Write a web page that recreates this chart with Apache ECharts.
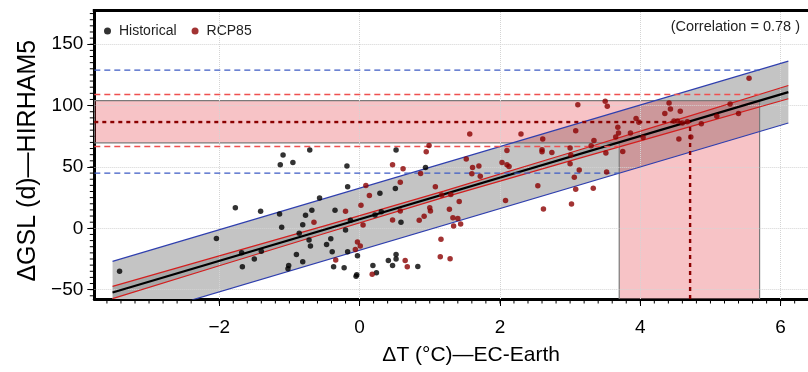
<!DOCTYPE html>
<html><head><meta charset="utf-8">
<script src="https://cdn.jsdelivr.net/npm/echarts@6/dist/echarts.min.js"></script>
<style>html,body{margin:0;padding:0;background:#fff}#c{width:808px;height:372px}</style>
</head><body><div id="c"></div>
<script>
// ---- data ----
const historical = [
 [-3.42,-34.9],[-1.09,59.7],[-1.13,51.8],[-0.95,53.7],[-0.71,63.8],[-0.18,50.7],[0.52,63.8],[0.94,49.6],
 [-1.77,16.8],[-1.41,13.9],[-2.04,-8.2],[-1.14,11.7],[-1.11,0.8],[-0.57,24.8],[-0.68,14.7],[-0.77,10.6],
 [-0.81,2.9],[-0.86,-4.1],[-0.72,-9.6],[-0.70,-14.5],[-0.35,14.7],[-0.17,33.8],[-0.13,6.5],[-0.20,-1.4],
 [-0.41,-8.5],[-0.47,-13.1],[-0.39,-19.1],[-0.17,-19.1],[-0.03,-22.4],[-0.90,-21.3],[-0.81,-27.3],[-1.01,-30.3],
 [-1.02,-33.0],[-1.50,-25.1],[-1.67,-31.4],[-1.68,-19.9],[-1.40,-18.6],[-0.37,-31.4],[-0.22,-32.2],[-0.05,-39.0],
 [-0.04,-37.9],[0.19,-30.3],[0.24,-36.3],[0.29,28.6],[0.31,13.6],[0.22,10.9],[0.51,32.4],[0.59,4.9],
 [0.41,-26.2],[0.47,-30.3],[0.52,-21.3],[0.52,-25.1],[0.83,-31.1]
];
const rcp85 = [
 [0.99,67.5],[0.95,62.4],[0.47,51.8],[0.62,48.5],[0.87,44.6],[0.58,37.6],[0.09,34.8],[0.14,26.7],
 [0.02,18.8],[-0.20,13.9],[-0.65,4.9],[0.05,2.7],[-0.03,-11.2],[0.01,-14.5],[-0.06,-17.2],[-0.34,-25.9],
 [0.18,-37.4],[0.65,-26.2],[0.68,-31.4],[0.47,6.8],[0.58,14.1],[1.00,16.8],[1.01,14.1],[0.92,9.8],
 [0.85,6.5],[1.08,33.8],[1.16,-9.0],[1.15,-23.2],[1.29,-24.9],[1.28,15.5],
 [1.57,76.9],[2.30,76.9],[3.11,100.6],[2.61,72.8],[1.52,56.4],[1.61,49.6],[1.70,50.7],[1.60,44.4],
 [1.72,42.5],[2.03,53.6],[2.10,51.8],[2.13,50.4],[2.10,63.5],[2.60,64.0],[2.60,62.4],[2.74,61.8],
 [3.00,65.4],[3.01,59.7],[3.00,52.6],[3.06,41.7],[3.08,31.9],[3.13,47.5],[2.54,34.6],[2.08,22.6],
 [2.62,15.8],[3.02,19.9],[1.42,21.8],[1.30,27.6],[1.17,27.2],[1.33,8.7],[1.40,7.9],[1.34,1.9],[1.44,3.5],
 [5.55,122.3],[3.50,103.5],[3.53,99.4],[4.41,102.2],[4.43,97.3],[4.35,93.5],[4.57,95.3],[5.28,101.4],
 [5.09,91.3],[5.40,93.5],[3.94,89.4],[3.98,86.4],[4.48,87.5],[4.53,87.5],[4.67,86.9],[4.87,85.3],
 [4.60,85.8],[3.68,82.3],[3.69,77.7],[3.86,77.7],[3.65,74.4],[4.04,74.1],[4.55,72.8],[4.72,74.4],
 [3.08,79.6],[3.34,71.6],[3.30,67.3],[3.51,61.3],[3.75,62.6],[3.52,45.8],[3.33,32.7]
];
// regression line and bands (end points / read values)
const fitX = [-3.52, 6.11];
const fitY = [-52.3, 111.0];
const predUpperY = [-27.0, 136.2];
const predLowerY = [-77.6, 85.8];
const confX = [-3.52, -2, -0.5, 1.2, 3, 4.5, 6.11];
const confUpper = [-47.3, -22.5, 2.0, 30.3, 61.6, 88.0, 116.4];
const confLower = [-57.3, -30.5, -4.2, 25.2, 55.0, 79.4, 105.6];
// projection: ΔT low / central / high and corresponding ΔGSL
const projX = [3.7, 4.71, 5.7];
const projY = [69.7, 86.6, 104.1];
const confProj = [66.7, 109.0];   // conf. lower at low ΔT, conf. upper at high ΔT
const predProj = [45.0, 128.9];   // pred. lower at low ΔT, pred. upper at high ΔT
const xTicks = [-2, 0, 2, 4, 6];
const yTicks = [-50, 0, 50, 100, 150];
const legendNames = ['Historical', 'RCP85'];
const corrText = '(Correlation = 0.78 )';

const xMin = -3.78, xMax = 6.39, yMin = -57.6, yMax = 177.5;
const minorX = []; for (let i = -18; i <= 31; i++) minorX.push(+(i * 0.2).toFixed(1));
const minorY = []; for (let v = -55; v <= 175; v += 5) minorY.push(v);
const fmt = v => String(v).replace('-', '\u2212');
const FONT = 'Liberation Sans, Arial, Helvetica, sans-serif';

function polySeries(z, pointsFn, style) {
  return {
    type: 'custom', z: z, silent: true, clip: true, data: [[0, 0]],
    renderItem: (params, api) => ({
      type: 'polygon',
      shape: { points: pointsFn().map(p => api.coord(p)) },
      style: style
    })
  };
}
function seg(pts, color, width, dash, z) {
  return { type: 'line', data: pts, showSymbol: false, symbol: 'none', silent: true, z: z,
    lineStyle: { color: color, width: width, type: dash || 'solid' }, clip: true };
}
// minor ticks drawn through the axis scales
function tickSeries(data, horizontal) {
  return {
    type: 'custom', z: 20, silent: true, clip: false, data: data,
    renderItem: (params, api) => {
      const p = api.coord([api.value(0), api.value(1)]);
      const shape = horizontal
        ? { x1: p[0], y1: p[1], x2: p[0], y2: p[1] + 4.5 }
        : { x1: p[0], y1: p[1], x2: p[0] - 4.5, y2: p[1] };
      return { type: 'line', shape: shape, style: { stroke: '#000', lineWidth: 1 } };
    }
  };
}
// top frame line along the upper edge of the plot
const topFrame = {
  type: 'custom', z: 20, silent: true, clip: false, data: [[0, 0]],
  renderItem: (params, api) => {
    const a = api.coord([xMin, yMax]), b = api.coord([xMax, yMax]);
    return { type: 'line', shape: { x1: a[0] - 1.5, y1: a[1], x2: b[0], y2: b[1] },
      style: { stroke: '#000', lineWidth: 3 } };
  }
};

const chart = echarts.init(document.getElementById('c'), null, { renderer: 'canvas' });
const grayBandPts = () => [[fitX[0], predUpperY[0]], [fitX[1], predUpperY[1]], [fitX[1], predLowerY[1]], [fitX[0], predLowerY[0]]];
const confPts = () => confX.map((x, i) => [x, confUpper[i]]).concat(confX.map((x, i) => [x, confLower[i]]).reverse());
const pinkPts = () => [[xMin, projY[2]], [projX[2], projY[2]], [projX[2], yMin], [projX[0], yMin], [projX[0], projY[0]], [xMin, projY[0]]];

chart.setOption({
  animation: false,
  textStyle: { fontFamily: FONT },
  grid: { left: 94.3, right: 0, top: 10.5, bottom: 73 },
  legend: {
    data: legendNames, left: 99, top: 19, icon: 'circle', itemWidth: 7, itemHeight: 7, itemGap: 15,
    textStyle: { fontSize: 14, color: '#222', padding: [0, 0, 0, 3], fontFamily: FONT }
  },
  graphic: [{
    type: 'text', right: 8, top: 19, z: 100,
    style: { text: corrText, fontSize: 14.5, fill: '#222', fontFamily: FONT }
  }],
  xAxis: [
    { type: 'value', min: xMin, max: xMax, position: 'bottom',
      axisLine: { onZero: false, lineStyle: { color: '#000', width: 3 } },
      axisTick: { customValues: xTicks, length: 7, lineStyle: { color: '#000', width: 1 } },
      axisLabel: { customValues: xTicks, formatter: fmt, fontSize: 19, color: '#000', margin: 19, fontFamily: FONT },
      splitLine: { show: false },
      name: 'ΔT (°C)—EC-Earth', nameLocation: 'middle', nameGap: 46,
      nameTextStyle: { fontSize: 21, color: '#000', fontFamily: FONT, padding: [0, 0, 0, 40] } }
  ],
  yAxis: [
    { type: 'value', min: yMin, max: yMax, position: 'left',
      axisLine: { show: true, onZero: false, lineStyle: { color: '#000', width: 3 } },
      axisTick: { show: true, customValues: yTicks, length: 7, lineStyle: { color: '#000', width: 1 } },
      axisLabel: { customValues: yTicks, formatter: fmt, fontSize: 19, color: '#000', margin: 11, fontFamily: FONT },
      splitLine: { show: false },
      name: 'ΔGSL (d)—HIRHAM5', nameLocation: 'middle', nameGap: 51, nameRotate: 90,
      nameTextStyle: { fontSize: 25, color: '#000', fontFamily: FONT, padding: [0, 12, 0, 0] } }
  ],
  series: [
    { type: 'line', z: 1, silent: true, data: [[xMin, yMin]], showSymbol: false, symbol: 'none',
      lineStyle: { opacity: 0 },
      markLine: { silent: true, symbol: ['none', 'none'], label: { show: false },
        lineStyle: { type: 'dotted', color: '#d4d4d4', width: 1 },
        data: xTicks.map(v => ({ xAxis: v })).concat(yTicks.map(v => ({ yAxis: v }))) } },
    polySeries(2, grayBandPts, { fill: '#c4c4c4' }),
    polySeries(3, confPts, { fill: 'rgba(0,0,0,0.14)' }),
    polySeries(4, pinkPts, { fill: 'rgba(228,40,52,0.28)', stroke: '#7a7a7a', lineWidth: 1.2 }),
    seg([[fitX[0], predUpperY[0]], [fitX[1], predUpperY[1]]], '#2f3fae', 1.2, null, 5),
    seg([[fitX[0], predLowerY[0]], [fitX[1], predLowerY[1]]], '#2f3fae', 1.2, null, 5),
    seg(confX.map((x, i) => [x, confUpper[i]]), '#d41e1e', 1.2, null, 5),
    seg(confX.map((x, i) => [x, confLower[i]]), '#d41e1e', 1.2, null, 5),
    seg([[fitX[0], fitY[0]], [fitX[1], fitY[1]]], '#000', 2.2, null, 6),
    seg([[xMin, predProj[1]], [projX[2], predProj[1]]], '#3d5bc4', 1.4, [6, 4], 7),
    seg([[xMin, confProj[1]], [projX[2], confProj[1]]], '#ee5050', 1.4, [6, 4], 7),
    seg([[xMin, confProj[0]], [projX[0], confProj[0]]], '#ee5050', 1.4, [6, 4], 7),
    seg([[xMin, predProj[0]], [projX[0], predProj[0]]], '#3d5bc4', 1.4, [6, 4], 7),
    seg([[xMin, projY[1]], [projX[1], projY[1]]], '#8b0000', 2.4, [4, 4], 7),
    seg([[projX[1], yMin], [projX[1], projY[1]]], '#8b0000', 2.4, [4, 4], 7),
    tickSeries(minorX.map(v => [v, yMin]), true),
    tickSeries(minorY.map(v => [xMin, v]), false),
    topFrame,
    { name: 'Historical', type: 'scatter', z: 8, data: historical, symbolSize: 5.5,
      itemStyle: { color: '#000' } },
    { name: 'RCP85', type: 'scatter', z: 8, data: rcp85, symbolSize: 5.5,
      itemStyle: { color: '#8b0000' } }
  ]
});
</script></body></html>
